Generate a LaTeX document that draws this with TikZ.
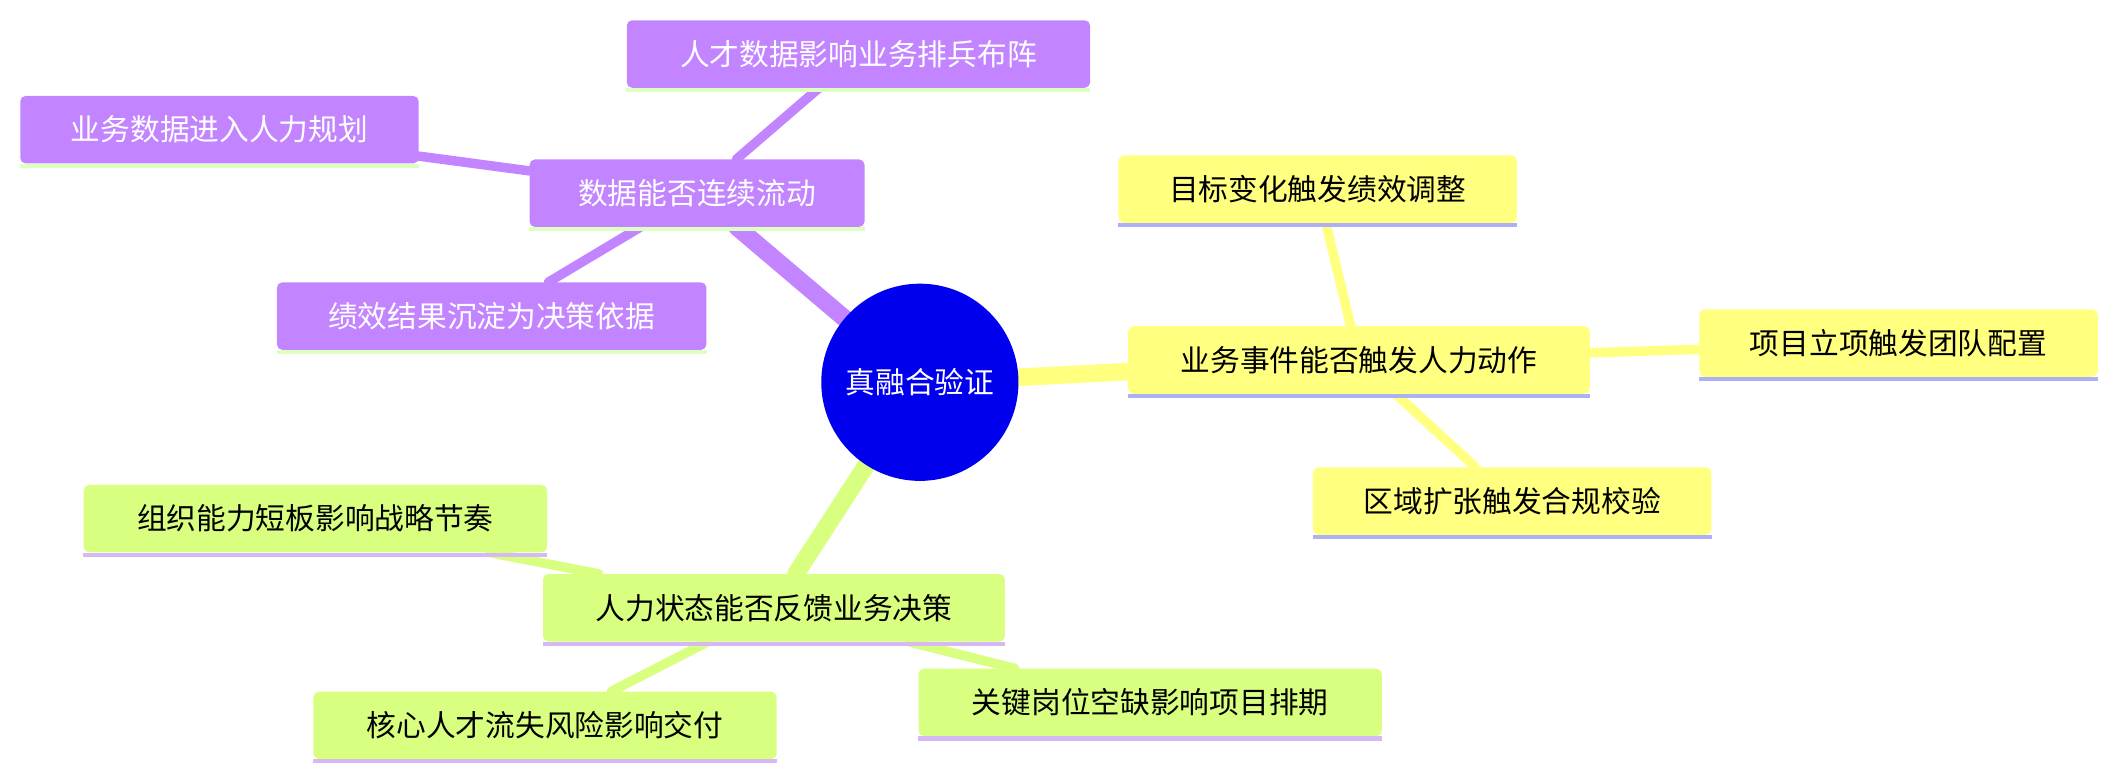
\documentclass[tikz,border=0pt]{standalone}
\usepackage{fontspec}
\setmainfont{Noto Sans CJK SC}
\usetikzlibrary{backgrounds}
\definecolor{pur}{HTML}{C285FF}
\definecolor{yel}{HTML}{FFFF80}
\definecolor{grn}{HTML}{D8FF80}
\definecolor{lav}{HTML}{AEB0F5}
\definecolor{lgr}{HTML}{DDFFC0}
\definecolor{lpu}{HTML}{D6B8F5}
\definecolor{ctr}{HTML}{0000EE}
\tikzset{
  box/.style={rectangle,rounded corners=4pt,inner sep=0pt,minimum height=50pt,font=\fontsize{22}{26}\selectfont},
  pbox/.style={box,fill=pur,text=white},
  ybox/.style={box,fill=yel,text=black},
  gbox/.style={box,fill=grn,text=black},
  link/.style={line cap=round},
}
\begin{document}
\begin{tikzpicture}[x=1pt,y=-1pt]
\useasboundingbox (0,0) rectangle (1568,576);
\node[circle,fill=ctr,text=white,minimum size=146pt,inner sep=0pt,font=\fontsize{22}{26}\selectfont] (c) at (681,283) {真融合验证};
% purple
\node[pbox,minimum width=248pt] (p) at (516,143) {数据能否连续流动};
\node[pbox,minimum width=343pt] (p1) at (635.5,40) {人才数据影响业务排兵布阵};
\node[pbox,minimum width=295pt] (p2) at (162.5,96) {业务数据进入人力规划};
\node[pbox,minimum width=318pt] (p3) at (364,234) {绩效结果沉淀为决策依据};
% yellow
\node[ybox,minimum width=342pt] (y) at (1006,266.5) {业务事件能否触发人力动作};
\node[ybox,minimum width=295pt] (y1) at (975.5,140) {目标变化触发绩效调整};
\node[ybox,minimum width=295pt] (y2) at (1405.5,254) {项目立项触发团队配置};
\node[ybox,minimum width=295pt] (y3) at (1119.5,371) {区域扩张触发合规校验};
% green
\node[gbox,minimum width=342pt] (g) at (573,450) {人力状态能否反馈业务决策};
\node[gbox,minimum width=343pt] (g1) at (233.5,384) {组织能力短板影响战略节奏};
\node[gbox,minimum width=343pt] (g2) at (403.5,537) {核心人才流失风险影响交付};
\node[gbox,minimum width=343pt] (g3) at (851.5,520) {关键岗位空缺影响项目排期};
\foreach \n in {p,p1,p2,p3} \draw[lgr,line width=3pt] ([yshift=-1.5pt]\n.south west) -- ([yshift=-1.5pt]\n.south east);
\foreach \n in {y,y1,y2,y3} \draw[lav,line width=3pt] ([yshift=-1.5pt]\n.south west) -- ([yshift=-1.5pt]\n.south east);
\foreach \n in {g,g1,g2,g3} \draw[lpu,line width=3pt] ([yshift=-1.5pt]\n.south west) -- ([yshift=-1.5pt]\n.south east);
\begin{scope}[on background layer]
\draw[link,pur,line width=13pt] (c) -- (p);
\draw[link,yel,line width=13pt] (c) -- (y);
\draw[link,grn,line width=13pt] (c) -- (g);
\draw[link,pur,line width=7pt] (p) -- (p1);
\draw[link,pur,line width=7pt] (p) -- (p2);
\draw[link,pur,line width=7pt] (p) -- (p3);
\draw[link,yel,line width=7pt] (y) -- (y1);
\draw[link,yel,line width=7pt] (y) -- (y2);
\draw[link,yel,line width=7pt] (y) -- (y3);
\draw[link,grn,line width=7pt] (g) -- (g1);
\draw[link,grn,line width=7pt] (g) -- (g2);
\draw[link,grn,line width=7pt] (g) -- (g3);
\end{scope}
\end{tikzpicture}
\end{document}
